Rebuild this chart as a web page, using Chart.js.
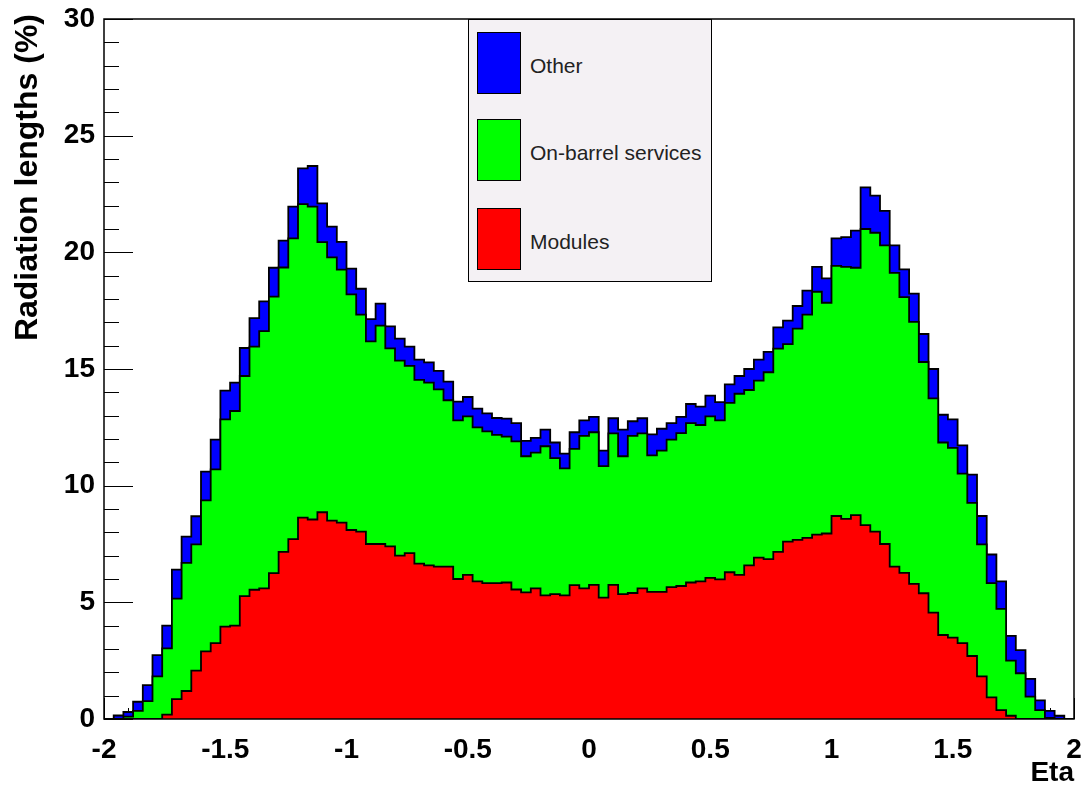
<!DOCTYPE html>
<html>
<head>
<meta charset="utf-8">
<title>Radiation lengths vs Eta</title>
<script src="https://cdn.jsdelivr.net/npm/chart.js@4.4.1/dist/chart.umd.min.js"></script>
<style>
  html, body { margin: 0; padding: 0; background: #fff; }
  #wrap { position: relative; width: 1085px; height: 790px; }
  #legend {
    position: absolute; left: 468px; top: 19px; width: 244px; height: 263px;
    box-sizing: border-box; border: 1px solid #000; background: #f4f1f4;
    font-family: "Liberation Sans", Arial, sans-serif; font-size: 21px; color: #222;
  }
  #legend .entry { position: absolute; left: 8px; display: flex; align-items: center; }
  #legend .swatch { width: 44px; height: 62px; box-sizing: border-box; border: 1px solid #000; margin-right: 9px; }
  #legend .entry span { padding-top: 5px; }
</style>
</head>
<body>
<div id="wrap">
  <canvas id="chart" width="1085" height="790"></canvas>
  <div id="legend"></div>
</div>
<script>
// histogram binning (100 bins from -2 to 2)
const etaMin = -2;
const etaMax = 2;
const binWidth = 0.04;

// stacked levels, one value per bin
const totalTop = [
  0, 0.15, 0.3, 0.74, 1.45, 2.74, 4.0, 6.4, 7.82, 8.69,
  10.6, 11.97, 14.07, 14.42, 15.9, 17.18, 17.9, 19.34, 20.5, 21.96,
  23.6, 23.7, 22.1, 21.1, 20.45, 19.3, 18.44, 17.14, 17.8, 16.83,
  16.3, 15.96, 15.4, 15.28, 14.92, 14.46, 13.6, 13.8, 13.3, 13.1,
  12.9, 12.87, 12.68, 11.92, 12.05, 12.4, 11.85, 11.37, 12.29, 12.8,
  12.95, 11.5, 12.89, 12.4, 12.76, 12.89, 12.2, 12.44, 12.68, 12.95,
  13.5, 13.39, 13.86, 13.58, 14.34, 14.7, 15.0, 15.4, 15.73, 16.78,
  17.07, 17.7, 18.36, 19.38, 18.88, 20.6, 20.65, 20.93, 22.78, 22.43,
  21.78, 20.3, 19.27, 18.23, 16.5, 15.0, 13.04, 12.84, 11.73, 10.47,
  8.7, 7.05, 5.9, 3.56, 2.95, 1.72, 0.8, 0.35, 0.14, 0
];
const servicesTop = [
  0, 0, 0.1, 0.35, 0.77, 1.83, 3.03, 5.16, 6.69, 7.48,
  9.37, 10.7, 12.84, 13.2, 14.7, 15.96, 16.62, 18.1, 19.35, 20.6,
  22.07, 21.96, 20.44, 19.78, 19.26, 18.2, 17.33, 16.18, 16.86, 15.88,
  15.36, 15.13, 14.53, 14.42, 14.13, 13.66, 12.8, 12.97, 12.5, 12.33,
  12.18, 12.1, 11.9, 11.26, 11.42, 11.69, 11.18, 10.74, 11.58, 12.13,
  12.29, 10.84, 12.24, 11.26, 12.13, 12.24, 11.3, 11.5, 11.97, 12.25,
  12.68, 12.6, 12.97, 12.8, 13.55, 13.94, 14.1, 14.5, 14.86, 15.87,
  16.07, 16.73, 17.33, 18.31, 17.84, 19.42, 19.38, 19.34, 21.0, 20.84,
  20.3, 19.12, 18.08, 17.02, 15.3, 13.74, 11.85, 11.62, 10.52, 9.26,
  7.48, 5.82, 4.72, 2.5, 1.96, 0.96, 0.38, 0.05, 0, 0
];
const modulesTop = [
  0, 0, 0, 0, 0, 0, 0.19, 0.85, 1.2, 2.07,
  2.9, 3.25, 3.96, 4.0, 5.27, 5.54, 5.6, 6.25, 7.16, 7.71,
  8.63, 8.55, 8.86, 8.5, 8.42, 8.1, 8.03, 7.5, 7.5, 7.4,
  7.0, 7.11, 6.66, 6.58, 6.53, 6.53, 6.0, 6.18, 5.9, 5.82,
  5.82, 5.85, 5.55, 5.43, 5.6, 5.3, 5.35, 5.3, 5.74, 5.6,
  5.75, 5.2, 5.75, 5.35, 5.4, 5.6, 5.45, 5.45, 5.65, 5.7,
  5.85, 5.9, 6.05, 5.98, 6.29, 6.18, 6.58, 6.92, 6.85, 7.16,
  7.6, 7.68, 7.76, 7.9, 7.95, 8.7, 8.58, 8.74, 8.31, 8.03,
  7.5, 6.53, 6.26, 5.79, 5.39, 4.56, 3.6, 3.49, 3.25, 2.7,
  1.83, 0.93, 0.38, 0.14, 0, 0, 0, 0, 0, 0
];

const seriesLabels = ['Modules', 'On-barrel services', 'Other'];
const seriesColors = ['#ff0000', '#00ff00', '#0000ff'];
const yTitle = 'Radiation lengths (%)';
const xTitle = 'Eta';

document.addEventListener('DOMContentLoaded', () => {
    // each component = difference of two stacked levels
    const modules = modulesTop.slice();
    const services = servicesTop.map((v, i) => v - modulesTop[i]);
    const other = totalTop.map((v, i) => v - servicesTop[i]);

    // points on bin low edges, plus a closing point at the upper edge
    function toSteps(vals) {
        const pts = vals.map((v, i) => ({ x: etaMin + i * binWidth, y: v }));
        pts.push({ x: etaMax, y: vals[vals.length - 1] });
        return pts;
    }

    const common = {
        stepped: true,
        borderColor: '#000',
        borderWidth: 1.8,
        pointRadius: 0,
        tension: 0
    };

    const fontFamily = '"Liberation Sans", Arial, sans-serif';

    // ROOT style: ticks inside the frame, frame box, y title pinned to the top end
    const rootFrame = {
        id: 'rootFrame',
        beforeDatasetsDraw(chart) {
            const { ctx, chartArea: a, scales: { x, y } } = chart;
            ctx.save();
            ctx.strokeStyle = '#000';
            ctx.lineWidth = 1;
            ctx.beginPath();
            for (let v = 0; v <= 30; v++) {
                const py = Math.round(y.getPixelForValue(v)) + 0.5;
                const len = v % 5 === 0 ? 29 : 15;
                ctx.moveTo(a.left, py);
                ctx.lineTo(a.left + len, py);
            }
            for (let k = -20; k <= 20; k++) {
                const px = Math.round(x.getPixelForValue(k / 10)) + 0.5;
                const len = k % 5 === 0 ? 21 : 11;
                ctx.moveTo(px, a.bottom);
                ctx.lineTo(px, a.bottom - len);
            }
            ctx.stroke();
            ctx.restore();
        },
        afterDatasetsDraw(chart) {
            const { ctx, chartArea: a } = chart;
            ctx.save();
            ctx.strokeStyle = '#000';
            ctx.lineWidth = 1.5;
            ctx.strokeRect(a.left, a.top, a.right - a.left, a.bottom - a.top);

            ctx.translate(28, 14);
            ctx.rotate(-Math.PI / 2);
            ctx.fillStyle = '#000';
            ctx.font = 'bold 32px ' + fontFamily;
            ctx.textAlign = 'right';
            ctx.textBaseline = 'middle';
            ctx.fillText(yTitle, 0, 0);
            ctx.restore();
        }
    };

    const tickFont = { family: fontFamily, size: 28, weight: 'bold' };

    const chart = new Chart(document.getElementById('chart'), {
        type: 'line',
        data: {
            datasets: [
                { ...common, label: seriesLabels[0], data: toSteps(modules), backgroundColor: seriesColors[0], fill: 'origin' },
                { ...common, label: seriesLabels[1], data: toSteps(services), backgroundColor: seriesColors[1], fill: '-1' },
                { ...common, label: seriesLabels[2], data: toSteps(other), backgroundColor: seriesColors[2], fill: '-1' }
            ]
        },
        options: {
            responsive: false,
            animation: false,
            events: [],
            layout: { padding: { left: 0, top: 19, right: 11, bottom: 0 } },
            plugins: { legend: { display: false }, tooltip: { enabled: false } },
            scales: {
                x: {
                    type: 'linear', min: etaMin, max: etaMax,
                    grid: { display: false, drawTicks: false },
                    border: { display: false },
                    ticks: { stepSize: 0.5, padding: 14, color: '#000', font: tickFont, maxRotation: 0, autoSkip: false,
                             callback: v => String(Math.round(v * 10) / 10) },
                    title: { display: true, text: xTitle, align: 'end', color: '#000',
                             font: { family: fontFamily, size: 28, weight: 'bold' }, padding: { top: 0, bottom: 0 } },
                    afterFit(s) {
                        s.height = 71;
                        // keep the edge labels from shrinking the frame
                        s.paddingLeft = 0;
                        s.paddingRight = 0;
                    }
                },
                y: {
                    stacked: true, min: 0, max: 30,
                    grid: { display: false, drawTicks: false },
                    border: { display: false },
                    ticks: { stepSize: 5, padding: 9, color: '#000', font: tickFont },
                    afterFit(s) {
                        s.width = 104;
                        s.paddingTop = 0;
                        s.paddingBottom = 0;
                    }
                }
            }
        },
        plugins: [rootFrame]
    });

    // legend, top entry = top of the stack
    const legend = document.getElementById('legend');
    const tops = [188, 99, 12];
    chart.data.datasets.forEach((ds, i) => {
        const row = document.createElement('div');
        row.className = 'entry';
        row.style.top = tops[i] + 'px';
        row.innerHTML = `<div class="swatch" style="background:${ds.backgroundColor}"></div><span>${ds.label}</span>`;
        legend.appendChild(row);
    });
});
</script>
</body>
</html>
